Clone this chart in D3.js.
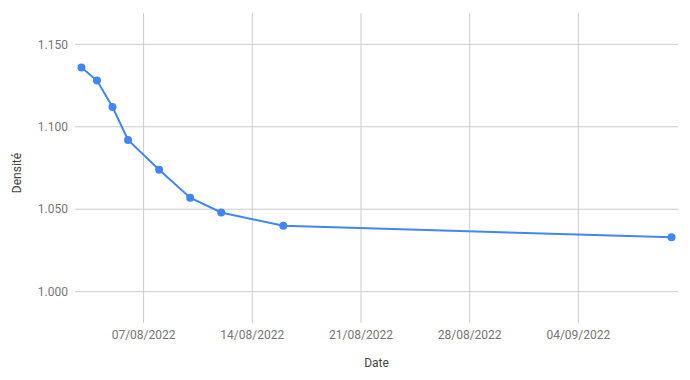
<!DOCTYPE html>
<html>
<head>
<meta charset="utf-8">
<script src="https://cdn.jsdelivr.net/npm/d3@7"></script>
<style>
  body { margin: 0; background: #fff; }
  text { font-family: Roboto, Arial, sans-serif; }
</style>
</head>
<body>
<svg id="chart" width="690" height="380"></svg>
<script>
// measurement dates and densities
const dates = ["2022-08-03", "2022-08-04", "2022-08-05", "2022-08-06", "2022-08-08",
  "2022-08-10", "2022-08-12", "2022-08-16", "2022-09-10"];
const densities = [1.136, 1.128, 1.112, 1.092, 1.074, 1.057, 1.048, 1.040, 1.033];
const yTicks = [1.000, 1.050, 1.100, 1.150];
const xTicks = ["2022-08-07", "2022-08-14", "2022-08-21", "2022-08-28", "2022-09-04"];

const parse = d3.utcParse("%Y-%m-%d");
const fmtDate = d3.utcFormat("%d/%m/%Y");
const points = dates.map((d, i) => ({date: parse(d), value: densities[i]}));

const svg = d3.select("#chart");
const plotLeft = 75, plotRight = 678, plotTop = 13, plotBottom = 323;

// a little padding round the first and last dates, like the original
const x = d3.scaleUtc()
  .domain([d3.utcHour.offset(parse(dates[0]), -10), d3.utcHour.offset(parse(dates[dates.length - 1]), 10)])
  .range([plotLeft, plotRight]);

const y = d3.scaleLinear()
  .domain([0.981, 1.169])
  .range([plotBottom, plotTop]);

// horizontal grid
svg.append("g")
  .selectAll("line")
  .data(yTicks)
  .join("line")
  .attr("x1", plotLeft).attr("x2", plotRight)
  .attr("y1", d => y(d)).attr("y2", d => y(d))
  .attr("stroke", "#cccccc");

// vertical grid
svg.append("g")
  .selectAll("line")
  .data(xTicks.map(parse))
  .join("line")
  .attr("x1", d => x(d)).attr("x2", d => x(d))
  .attr("y1", plotTop).attr("y2", plotBottom)
  .attr("stroke", "#cccccc");

// y tick labels
svg.append("g")
  .selectAll("text")
  .data(yTicks)
  .join("text")
  .attr("x", plotLeft - 7)
  .attr("y", d => y(d))
  .attr("dy", "0.35em")
  .attr("text-anchor", "end")
  .attr("font-size", 12)
  .attr("fill", "#757575")
  .text(d3.format(".3f"));

// x tick labels
svg.append("g")
  .selectAll("text")
  .data(xTicks.map(parse))
  .join("text")
  .attr("x", d => x(d))
  .attr("y", 335)
  .attr("dy", "0.35em")
  .attr("text-anchor", "middle")
  .attr("font-size", 12)
  .attr("fill", "#757575")
  .text(fmtDate);

// axis titles
svg.append("text")
  .attr("x", (plotLeft + plotRight) / 2)
  .attr("y", 363)
  .attr("dy", "0.35em")
  .attr("text-anchor", "middle")
  .attr("font-size", 12)
  .attr("fill", "#444")
  .text("Date");

svg.append("text")
  .attr("transform", "translate(17,173) rotate(-90)")
  .attr("dy", "0.35em")
  .attr("text-anchor", "middle")
  .attr("font-size", 12)
  .attr("fill", "#444")
  .text("Densité");

// line and points
const line = d3.line()
  .x(d => x(d.date))
  .y(d => y(d.value));

svg.append("path")
  .datum(points)
  .attr("d", line)
  .attr("fill", "none")
  .attr("stroke", "#4285f4")
  .attr("stroke-width", 2);

svg.append("g")
  .selectAll("circle")
  .data(points)
  .join("circle")
  .attr("cx", d => x(d.date))
  .attr("cy", d => y(d.value))
  .attr("r", 4)
  .attr("fill", "#4285f4");
</script>
</body>
</html>
